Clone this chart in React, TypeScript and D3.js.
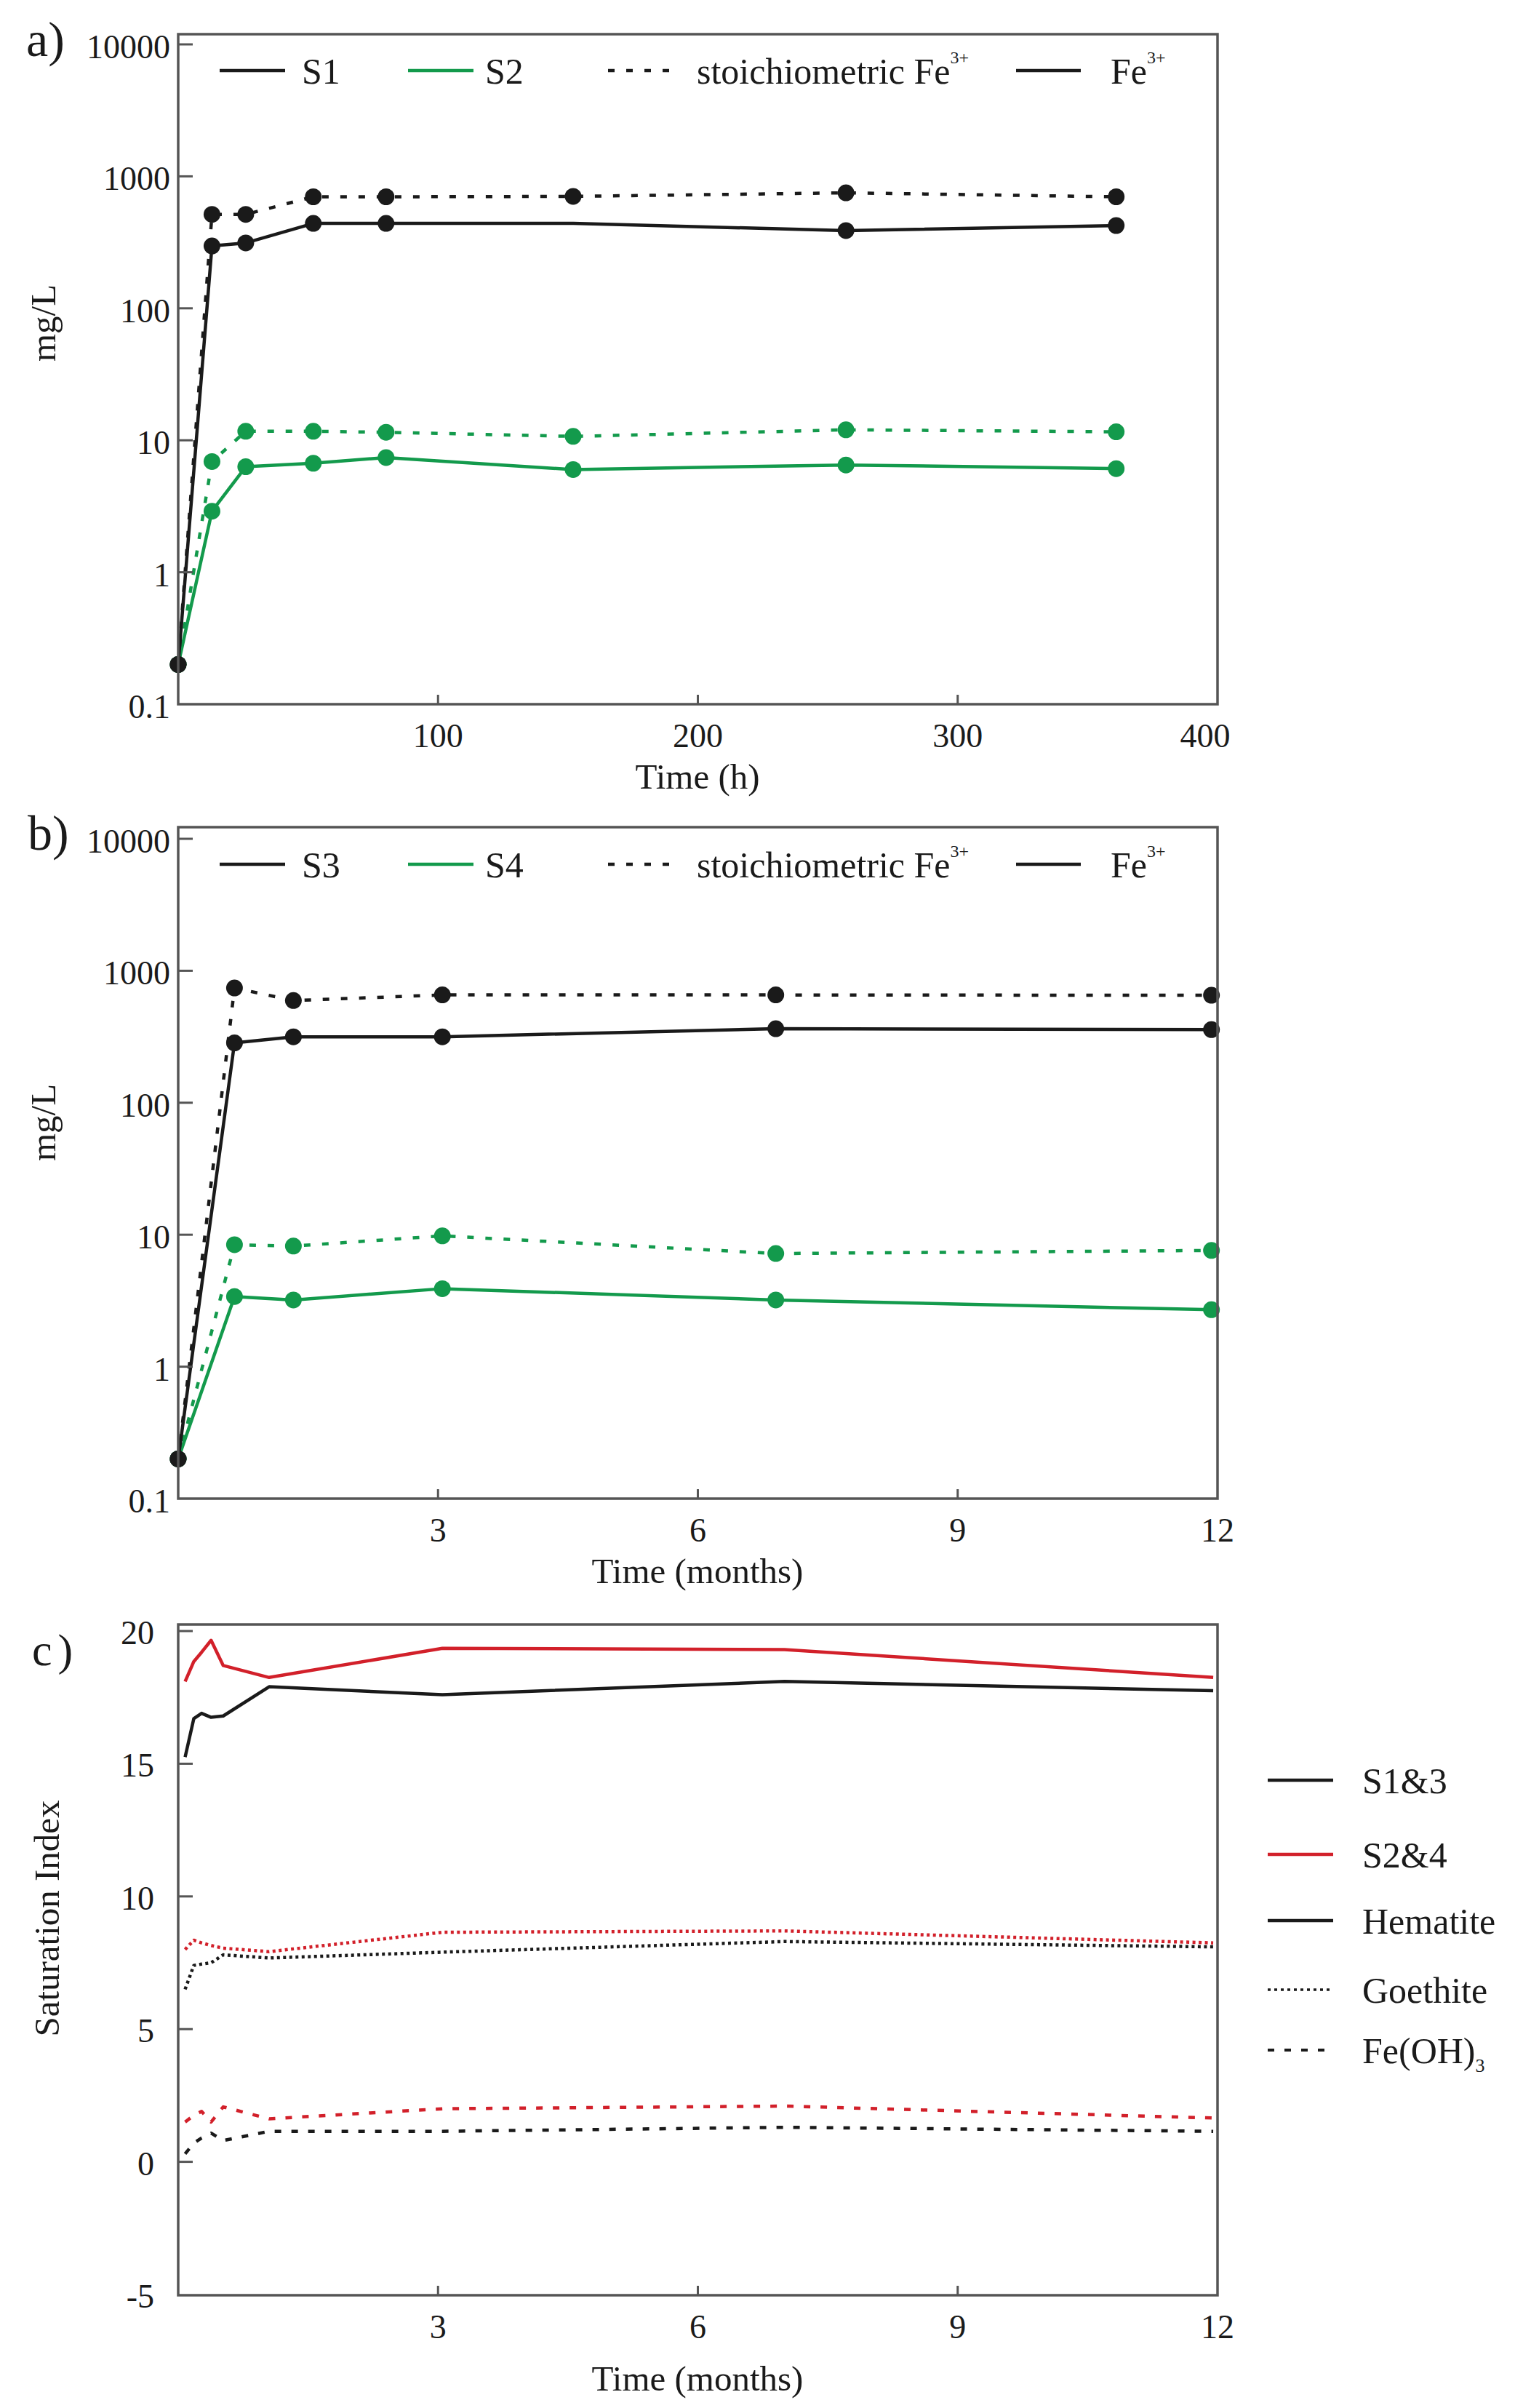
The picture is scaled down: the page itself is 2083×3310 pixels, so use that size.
import React from 'react';
import * as d3 from 'd3';

// ---------- data ----------
// Panel a: time in hours
const HOURS = [0, 13, 26, 52, 80, 152, 257, 361];
const S1_STOICH = [0.2, 515, 515, 700, 700, 705, 750, 700];
const S1_FE3 = [0.2, 297, 313, 440, 440, 440, 388, 424];
const S1_FE3_MARKED = [true, true, true, true, true, false, true, true];
const S2_STOICH = [0.2, 6.9, 11.7, 11.7, 11.5, 10.7, 12.0, 11.6];
const S2_FE3 = [0.2, 2.9, 6.3, 6.7, 7.4, 6.0, 6.5, 6.1];

// Panel b: time in months
const MONTHS_B = [0, 0.65, 1.33, 3.05, 6.9, 11.93];
const S3_STOICH = [0.2, 740, 595, 656, 656, 652];
const S3_FE3 = [0.2, 284, 316, 316, 364, 358];
const S4_STOICH = [0.2, 8.4, 8.2, 9.8, 7.2, 7.6];
const S4_FE3 = [0.2, 3.4, 3.2, 3.9, 3.2, 2.7];

// Panel c: saturation indices, time in months
const MONTHS_C = [0.08, 0.18, 0.27, 0.38, 0.52, 1.05, 3.05, 7.0, 11.95];
const HEM_13 = [15.25, 16.7, 16.9, 16.75, 16.8, 17.9, 17.6, 18.1, 17.75];
const HEM_24 = [18.1, 18.85, 19.2, 19.65, 18.7, 18.25, 19.35, 19.3, 18.25];
const GOE_13 = [6.5, 7.4, 7.45, 7.5, 7.8, 7.68, 7.9, 8.3, 8.1];
const GOE_24 = [8.0, 8.35, 8.25, 8.15, 8.05, 7.92, 8.65, 8.7, 8.25];
const FEOH_13 = [0.3, 0.7, 0.9, 1.08, 0.8, 1.15, 1.15, 1.3, 1.15];
const FEOH_24 = [1.5, 1.75, 1.9, 1.5, 2.07, 1.62, 2.0, 2.1, 1.65];

// ticks
const HOUR_TICKS = [100, 200, 300, 400];
const MONTH_TICKS = [3, 6, 9, 12];
const LOG_TICKS = [0.1, 1, 10, 100, 1000, 10000];
const LOG_TICK_LABELS = ['0.1', '1', '10', '100', '1000', '10000'];
const SI_TICKS = [-5, 0, 5, 10, 15, 20];

// ---------- style ----------
const FONT = '"Liberation Serif", "Times New Roman", serif';
const BLACK = '#1a1a1a';
const GREEN = '#139a4c';
const RED = '#d2202a';
const FRAME = '#555555';
const DASH = '9,16';
const DOT = '4,4.5';
const FEOH_DASH = '9,14';

type Sc = (v: number) => number;

function Series({ xs, ys, x, y, color, dash, width = 4.5, markers, marked }: {
  xs: number[]; ys: number[]; x: Sc; y: Sc; color: string; dash?: string; width?: number;
  markers?: boolean; marked?: boolean[];
}) {
  const pts = xs.map((t, i) => [t, ys[i]] as [number, number]);
  const line = d3.line<[number, number]>().x(d => x(d[0])).y(d => y(d[1]));
  return (
    <g>
      <path d={line(pts) || ''} fill="none" stroke={color} strokeWidth={width}
        strokeDasharray={dash} strokeLinejoin="round" />
      {markers && pts.map((d, i) => (marked && !marked[i]) ? null : (
        <circle key={i} cx={x(d[0])} cy={y(d[1])} r={11.5} fill={color} />
      ))}
    </g>
  );
}

export default function App() {
  const left = 245, right = 1674;
  const xA = d3.scaleLinear().domain([0, 400]).range([left, right]);
  const yA = d3.scaleLog().domain([0.1, 10000]).range([968, 61]);
  const xB = d3.scaleLinear().domain([0, 12]).range([left, right]);
  const yB = d3.scaleLog().domain([0.1, 10000]).range([2060, 1153]);
  const xC = d3.scaleLinear().domain([0, 12]).range([left, right]);
  const yC = d3.scaleLinear().domain([-5, 20]).range([3154, 2242]);

  const panels = [
    { top: 47, bottom: 968 },
    { top: 1137, bottom: 2060 },
    { top: 2233, bottom: 3155 },
  ];

  const frames = panels.map((p, i) => (
    <rect key={'f' + i} x={left} y={p.top} width={right - left} height={p.bottom - p.top}
      fill="none" stroke={FRAME} strokeWidth={3.5} />
  ));

  const xTicks = (ticks: number[], sc: Sc, bottom: number, key: string, lastShift = 0) => (
    <g key={key}>
      {ticks.map((t, i) => {
        const px = sc(t);
        const isEnd = i === ticks.length - 1;
        return (
          <g key={i}>
            {!isEnd && <line x1={px} x2={px} y1={bottom} y2={bottom - 13} stroke={FRAME} strokeWidth={3} />}
            <text x={px + (isEnd ? lastShift : 0)} y={bottom + 59} textAnchor="middle" fontSize={46} fontFamily={FONT} fill={BLACK}>{t}</text>
          </g>
        );
      })}
    </g>
  );

  const yLogTicks = (sc: Sc, key: string) => (
    <g key={key}>
      {LOG_TICKS.map((t, i) => {
        const py = sc(t);
        return (
          <g key={i}>
            {i > 0 && <line x1={left} x2={left + 20} y1={py} y2={py} stroke={FRAME} strokeWidth={3} />}
            <text x={234} y={py + 19} textAnchor="end" fontSize={46} fontFamily={FONT} fill={BLACK}>{LOG_TICK_LABELS[i]}</text>
          </g>
        );
      })}
    </g>
  );

  const ySiTicks = (
    <g>
      {SI_TICKS.map((t, i) => {
        const py = yC(t);
        return (
          <g key={i}>
            {i > 0 && <line x1={left} x2={left + 20} y1={py} y2={py} stroke={FRAME} strokeWidth={3} />}
            <text x={212} y={py + 18} textAnchor="end" fontSize={46} fontFamily={FONT} fill={BLACK}>{t}</text>
          </g>
        );
      })}
    </g>
  );

  const legendAB = (y: number, n1: string, n2: string) => (
    <g fontFamily={FONT} fontSize={50} fill={BLACK}>
      <line x1={302} x2={392} y1={y} y2={y} stroke={BLACK} strokeWidth={4.5} />
      <text x={415} y={y + 18}>{n1}</text>
      <line x1={561} x2={651} y1={y} y2={y} stroke={GREEN} strokeWidth={4.5} />
      <text x={667} y={y + 18}>{n2}</text>
      <line x1={836} x2={928} y1={y} y2={y} stroke={BLACK} strokeWidth={4.5} strokeDasharray={DASH} />
      <text x={958} y={y + 18}>stoichiometric Fe<tspan fontSize={24} dy={-28}>3+</tspan></text>
      <line x1={1397} x2={1486} y1={y} y2={y} stroke={BLACK} strokeWidth={4.5} />
      <text x={1527} y={y + 18}>Fe<tspan fontSize={24} dy={-28}>3+</tspan></text>
    </g>
  );

  const legC = [
    { y: 2447, color: BLACK, dash: undefined as string | undefined, w: 4.5, label: 'S1&3' },
    { y: 2549, color: RED, dash: undefined, w: 4.5, label: 'S2&4' },
    { y: 2640, color: BLACK, dash: undefined, w: 4.5, label: 'Hematite' },
    { y: 2735, color: BLACK, dash: '4,5', w: 3.5, label: 'Goethite' },
    { y: 2818, color: BLACK, dash: FEOH_DASH, w: 4, label: 'Fe(OH)' },
  ];

  return (
    <svg width={2083} height={3310} style={{ position: 'absolute', left: 0, top: 0, background: '#fff' }}>
      <rect x={0} y={0} width={2083} height={3310} fill="#fff" />

      {/* Panel a */}
      <Series xs={HOURS} ys={S2_STOICH} x={xA} y={yA} color={GREEN} dash={DASH} markers />
      <Series xs={HOURS} ys={S2_FE3} x={xA} y={yA} color={GREEN} markers />
      <Series xs={HOURS} ys={S1_STOICH} x={xA} y={yA} color={BLACK} dash={DASH} markers />
      <Series xs={HOURS} ys={S1_FE3} x={xA} y={yA} color={BLACK} markers marked={S1_FE3_MARKED} />

      {/* Panel b */}
      <Series xs={MONTHS_B} ys={S4_STOICH} x={xB} y={yB} color={GREEN} dash={DASH} markers />
      <Series xs={MONTHS_B} ys={S4_FE3} x={xB} y={yB} color={GREEN} markers />
      <Series xs={MONTHS_B} ys={S3_STOICH} x={xB} y={yB} color={BLACK} dash={DASH} markers />
      <Series xs={MONTHS_B} ys={S3_FE3} x={xB} y={yB} color={BLACK} markers />

      {/* Panel c */}
      <Series xs={MONTHS_C} ys={HEM_24} x={xC} y={yC} color={RED} width={4.5} />
      <Series xs={MONTHS_C} ys={HEM_13} x={xC} y={yC} color={BLACK} width={4.5} />
      <Series xs={MONTHS_C} ys={GOE_24} x={xC} y={yC} color={RED} dash={DOT} width={4.5} />
      <Series xs={MONTHS_C} ys={GOE_13} x={xC} y={yC} color={BLACK} dash={DOT} width={4.5} />
      <Series xs={MONTHS_C} ys={FEOH_24} x={xC} y={yC} color={RED} dash={FEOH_DASH} width={4.5} />
      <Series xs={MONTHS_C} ys={FEOH_13} x={xC} y={yC} color={BLACK} dash={FEOH_DASH} width={4.5} />

      {frames}
      {xTicks(HOUR_TICKS, xA, 968, 'xa', -17)}
      {xTicks(MONTH_TICKS, xB, 2060, 'xb')}
      {xTicks(MONTH_TICKS, xC, 3155, 'xc')}
      {yLogTicks(yA, 'ya')}
      {yLogTicks(yB, 'yb')}
      {ySiTicks}

      {legendAB(97, 'S1', 'S2')}
      {legendAB(1188, 'S3', 'S4')}

      <g fontFamily={FONT} fontSize={50} fill={BLACK}>
        {legC.map((l, i) => (
          <g key={i}>
            <line x1={1743} x2={1833} y1={l.y} y2={l.y} stroke={l.color} strokeWidth={l.w} strokeDasharray={l.dash} />
            <text x={1873} y={l.y + 18}>{l.label}{i === 4 && <tspan fontSize={26} dy={12}>3</tspan>}</text>
          </g>
        ))}
      </g>

      {/* panel labels */}
      <g fontFamily={FONT} fill={BLACK}>
        <text x={36} y={77} fontSize={68}>a)</text>
        <text x={38} y={1168} fontSize={68}>b)</text>
        <text x={44} y={2289} fontSize={62} letterSpacing={8}>c)</text>
      </g>

      {/* axis titles */}
      <g fontFamily={FONT} fontSize={49} fill={BLACK} textAnchor="middle">
        <text transform="translate(76,444) rotate(-90)">mg/L</text>
        <text transform="translate(76,1543) rotate(-90)">mg/L</text>
        <text transform="translate(81,2637) rotate(-90)">Saturation Index</text>
        <text x={959} y={1084}>Time (h)</text>
        <text x={959} y={2176}>Time (months)</text>
        <text x={959} y={3286}>Time (months)</text>
      </g>
    </svg>
  );
}
